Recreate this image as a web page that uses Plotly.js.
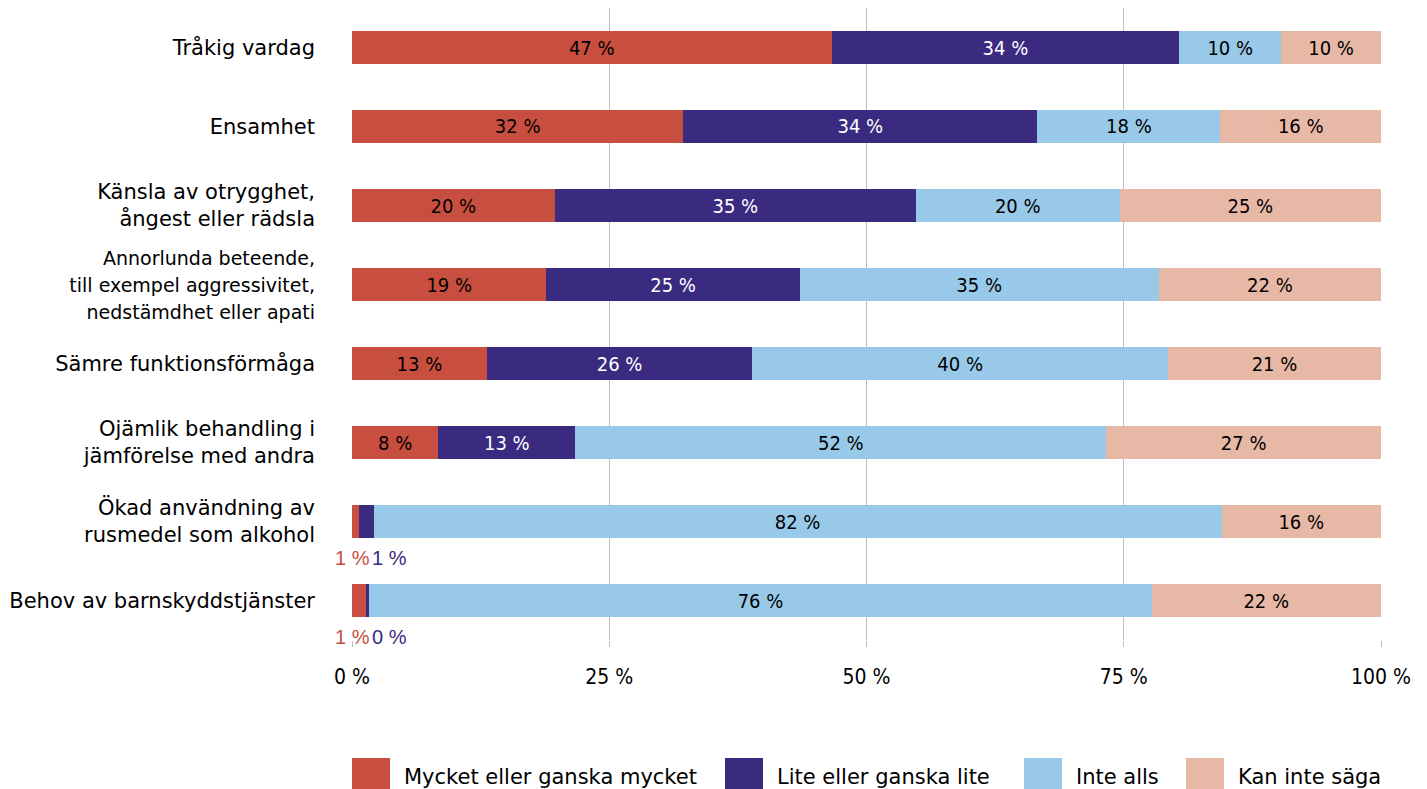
<!DOCTYPE html>
<html>
<head>
<meta charset="utf-8">
<script src="https://cdn.plot.ly/plotly-3.0.1.min.js"></script>
<style>html,body{margin:0;padding:0;background:#fff}#chart{width:1427px;height:789px}</style>
</head>
<body>
<div id="chart"></div>
<script>
const categories = [
  'Tråkig vardag',
  'Ensamhet',
  'Känsla av otrygghet,<br>ångest eller rädsla',
  '<span style="font-size:19px">Annorlunda beteende,<br>till exempel aggressivitet,<br>nedstämdhet eller apati</span>',
  'Sämre funktionsförmåga',
  'Ojämlik behandling i<br>jämförelse med andra',
  'Ökad användning av<br>rusmedel som alkohol',
  'Behov av barnskyddstjänster'
];
const seriesNames = ['Mycket eller ganska mycket', 'Lite eller ganska lite', 'Inte alls', 'Kan inte säga'];
const mycket = [46.6, 32.2, 19.7, 18.9, 13.1, 8.4, 0.7, 1.4];
const lite   = [33.8, 34.4, 35.1, 24.6, 25.8, 13.3, 1.4, 0.3];
const inte   = [9.9, 17.8, 19.8, 34.9, 40.4, 51.6, 82.4, 76.0];
const kan    = [9.7, 15.6, 25.4, 21.6, 20.7, 26.7, 15.5, 22.3];
const tickVals = [0, 25, 50, 75, 100];
const tickText = ['0 %', '25 %', '50 %', '75 %', '100 %'];

const colors = ['#C84F3F', '#3A2A80', '#99C9E8', '#E8B8A7'];
const textColors = ['#000000', '#ffffff', '#000000', '#000000'];
const series = [mycket, lite, inte, kan];
const SMALL = 3;

// layout geometry (pixels)
const W = 1427, H = 789;
const M = {l: 352, r: 46, t: 8, b: 149};
const plotW = W - M.l - M.r, plotH = H - M.t - M.b;
const px2x = px => (px - M.l) / plotW;
const py2y = py => (H - M.b - py) / plotH;

const traces = series.map((vals, i) => ({
  type: 'bar',
  orientation: 'h',
  name: seriesNames[i],
  y: categories,
  x: vals,
  marker: {color: colors[i], line: {width: 0}},
  texttemplate: vals.map(v => v < SMALL ? '' : '%{x:.0f} %'),
  textposition: 'inside',
  insidetextanchor: 'middle',
  textangle: 0,
  constraintext: 'none',
  insidetextfont: {family: 'DejaVu Sans Condensed', size: 20, color: textColors[i]},
  hoverinfo: 'name+x',
  showlegend: false
}));

// outside labels for tiny segments (below the bar)
const annotations = [];
categories.forEach((c, k) => {
  if (mycket[k] < SMALL || lite[k] < SMALL) {
    annotations.push({
      x: 0, y: c, xref: 'x', yref: 'y', xanchor: 'center', yanchor: 'middle',
      yshift: -36, showarrow: false,
      text: Math.round(mycket[k]) + ' %',
      font: {family: 'Liberation Sans', size: 20, color: colors[0]}
    });
    annotations.push({
      x: 0, y: c, xref: 'x', yref: 'y', xanchor: 'left', yanchor: 'middle',
      yshift: -36, xshift: 18, showarrow: false,
      text: Math.round(lite[k]) + ' %',
      font: {family: 'Liberation Sans', size: 20, color: colors[1]}
    });
  }
});

// custom legend (large square swatches)
const legendX = [352, 725, 1024, 1186];
const swatch = 38, legTop = 758, legMid = 777;
const shapes = [];
seriesNames.forEach((n, i) => {
  shapes.push({
    type: 'rect', xref: 'paper', yref: 'paper',
    x0: px2x(legendX[i]), x1: px2x(legendX[i] + swatch),
    y0: py2y(legTop), y1: py2y(legTop + swatch),
    fillcolor: colors[i], line: {width: 0}, layer: 'above'
  });
  annotations.push({
    xref: 'paper', yref: 'paper', x: px2x(legendX[i] + 50), y: py2y(legMid),
    xanchor: 'left', yanchor: 'middle', showarrow: false, text: n,
    font: {family: 'DejaVu Sans', size: 21, color: '#000000'}
  });
});

const layout = {
  width: W, height: H,
  margin: {l: M.l, r: M.r, t: M.t, b: M.b, autoexpand: false},
  barmode: 'stack',
  bargap: 0.57,
  paper_bgcolor: '#ffffff',
  plot_bgcolor: '#ffffff',
  font: {family: 'DejaVu Sans', size: 20, color: '#000000'},
  showlegend: false,
  xaxis: {
    range: [0, 100], tickvals: tickVals, ticktext: tickText,
    showgrid: true, gridcolor: '#BFBFBF', gridwidth: 1,
    zeroline: false, showline: false,
    ticks: 'outside', ticklen: 6, tickcolor: '#BFBFBF',
    ticklabelstandoff: 12,
    tickfont: {family: 'DejaVu Sans Condensed', size: 21, color: '#000000'},
    fixedrange: true
  },
  yaxis: {
    autorange: 'reversed', type: 'category',
    showgrid: false, zeroline: false, showline: false, ticks: '',
    ticklabelstandoff: 36,
    tickfont: {family: 'DejaVu Sans', size: 21, color: '#000000'},
    fixedrange: true
  },
  shapes: shapes,
  annotations: annotations
};

Plotly.newPlot('chart', traces, layout, {displayModeBar: false, staticPlot: true});
</script>
</body>
</html>
